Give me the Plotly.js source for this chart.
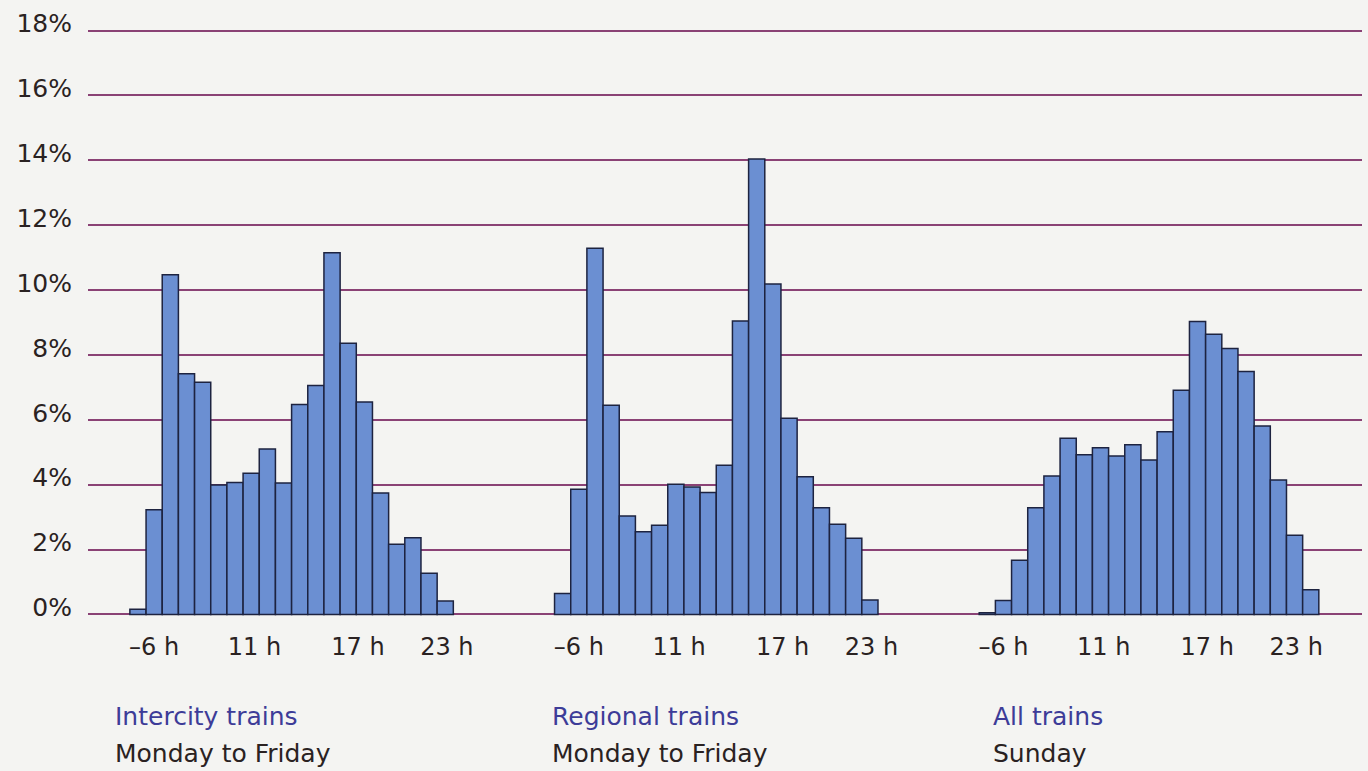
<!DOCTYPE html>
<html>
<head>
<meta charset="utf-8">
<script src="https://cdn.plot.ly/plotly-3.0.1.min.js"></script>
<style>
  html, body { margin: 0; padding: 0; background: #f4f4f2; }
  #chart { width: 1368px; height: 771px; }
</style>
</head>
<body>
<div id="chart"></div>
<script>
// Hour slots (bar categories)
const hours = [4, 5, 6, 7, 8, 9, 10, 11, 12, 13, 14, 15, 16, 17, 18, 19, 20, 21, 22, 23, 24];

// Share of daily passengers per hour (%)
const intercityWeekday = [0.16, 3.23, 10.47, 7.42, 7.16, 3.99, 4.07, 4.35, 5.10, 4.05,
                          6.47, 7.06, 11.15, 8.36, 6.55, 3.74, 2.16, 2.36, 1.27, 0.41];
const regionalWeekday  = [0.64, 3.86, 11.29, 6.45, 3.03, 2.55, 2.75, 4.01, 3.93, 3.76,
                          4.60, 9.05, 14.04, 10.19, 6.05, 4.24, 3.29, 2.78, 2.35, 0.44];
const allTrainsSunday  = [0.05, 0.43, 1.67, 3.29, 4.27, 5.43, 4.92, 5.14, 4.88, 5.23,
                          4.76, 5.63, 6.91, 9.03, 8.64, 8.20, 7.49, 5.81, 4.14, 2.44, 0.76];

// Tick labels
const xTickHours = [5, 11.2, 17.6, 23.1];
const xTickLabels = ['\u20136 h', '11 h', '17 h', '23 h'];
const yTickValues = [0, 2, 4, 6, 8, 10, 12, 14, 16, 18];
const yTickLabels = ['0%', '2%', '4%', '6%', '8%', '10%', '12%', '14%', '16%', '18%'];

// Panel captions
const captionTitles = ['Intercity trains', 'Regional trains', 'All trains'];
const captionDays = ['Monday to Friday', 'Monday to Friday', 'Sunday'];

const series = [intercityWeekday, regionalWeekday, allTrainsSunday];
const axisIds = ['x', 'x2', 'x3'];

const barColor = '#6b8fd2';
const barLine = '#1d2340';
const gridColor = '#8a4275';
const textDark = '#2a2222';
const textBlue = '#3d3c98';
const fontFam = 'DejaVu Sans, Liberation Sans, Arial, sans-serif';

const traces = series.map((vals, k) => ({
  type: 'bar',
  x: hours.slice(0, vals.length),
  y: vals,
  xaxis: axisIds[k],
  yaxis: 'y',
  marker: { color: barColor, line: { color: barLine, width: 1.5 } },
  hoverinfo: 'x+y',
  showlegend: false
}));

const xRange = [0.91, 27.17];
function xAxis(domain) {
  return {
    domain: domain,
    range: xRange,
    anchor: 'y',
    showgrid: false,
    zeroline: false,
    showline: false,
    tickmode: 'array',
    tickvals: xTickHours,
    ticktext: xTickLabels,
    ticks: '',
    ticklabelstandoff: 14,
    tickfont: { family: fontFam, size: 24, color: textDark },
    fixedrange: true
  };
}

const annotations = [];
const capX = [0.0196, 0.3626, 0.7088];
captionTitles.forEach((t, k) => {
  annotations.push({
    xref: 'paper', yref: 'paper', x: capX[k], y: -0.172,
    xanchor: 'left', yanchor: 'middle', showarrow: false,
    text: t, font: { family: fontFam, size: 25, color: textBlue }
  });
  annotations.push({
    xref: 'paper', yref: 'paper', x: capX[k], y: -0.2334,
    xanchor: 'left', yanchor: 'middle', showarrow: false,
    text: captionDays[k], font: { family: fontFam, size: 25, color: textDark }
  });
});

const layout = {
  width: 1368,
  height: 771,
  margin: { l: 88, r: 6, t: 29, b: 155 },
  paper_bgcolor: '#f4f4f2',
  plot_bgcolor: '#f4f4f2',
  bargap: 0,
  xaxis: xAxis([0, 1/3]),
  xaxis2: xAxis([1/3, 2/3]),
  xaxis3: xAxis([2/3, 1]),
  yaxis: {
    range: [-0.05, 18.05],
    tickmode: 'array',
    tickvals: yTickValues,
    ticktext: yTickLabels,
    showgrid: true,
    gridcolor: gridColor,
    gridwidth: 2,
    zeroline: false,
    showline: false,
    ticks: '',
    ticklabelstandoff: 15,
    ticklabelshift: -7,
    tickfont: { family: fontFam, size: 25, color: textDark },
    fixedrange: true
  },
  annotations: annotations
};

Plotly.newPlot('chart', traces, layout, { displayModeBar: false, staticPlot: true });
</script>
</body>
</html>
